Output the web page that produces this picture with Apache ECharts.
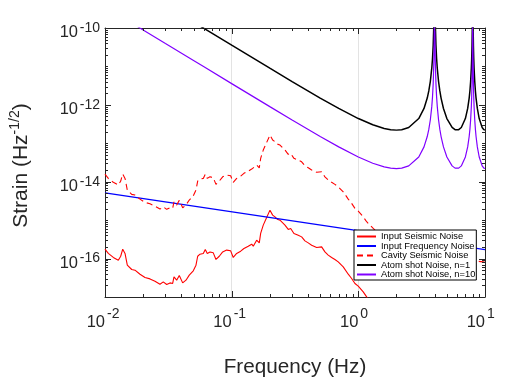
<!DOCTYPE html>
<html>
<head>
<meta charset="utf-8">
<script src="https://cdn.jsdelivr.net/npm/echarts@6/dist/echarts.min.js"></script>
<style>
  html, body { margin: 0; padding: 0; background: #fff; }
  #main { width: 509px; height: 378px; }
</style>
</head>
<body>
<div id="main"></div>
<script>
// atom shot noise (resonances at 4 Hz and 8 Hz)
const freqShot = [0.015, 0.02, 0.03, 0.05, 0.06, 0.1, 0.2, 0.3, 0.5, 0.7, 1, 1.3, 1.6, 1.8, 2, 2.2, 2.5, 3, 3.3, 3.5, 3.6, 3.7, 3.8, 3.85, 3.9, 3.95, 3.97, 3.98, 3.99, 4,
  4.01, 4.02, 4.03, 4.05, 4.1, 4.15, 4.2, 4.3, 4.4, 4.5, 4.7, 5, 5.5, 5.8, 6, 6.2, 6.5, 7, 7.3, 7.5, 7.6, 7.7, 7.8, 7.85, 7.9, 7.95, 7.97, 7.98, 7.99, 8,
  8.01, 8.02, 8.03, 8.05, 8.1, 8.15, 8.2, 8.3, 8.4, 8.5, 8.7, 9, 9.5, 9.8, 10];
const shotN1 = [1.58e-9, 8.92e-10, 3.96e-10, 1.43e-10, 9.91e-11, 3.57e-11, 8.99e-12, 4.04e-12, 1.5e-12, 8.06e-13, 4.4e-13, 3.03e-13, 2.43e-13, 2.26e-13, 2.2e-13, 2.26e-13, 2.58e-13, 4.4e-13, 8.06e-13, 1.5e-12, 2.3e-12, 4.04e-12, 8.99e-12, 1.59e-11, 3.57e-11, 1.43e-10, 3.96e-10, 8.92e-10, 3.57e-9, 1e-6,
  3.57e-9, 8.92e-10, 3.96e-10, 1.43e-10, 3.57e-11, 1.59e-11, 8.99e-12, 4.04e-12, 2.3e-12, 1.5e-12, 8.06e-13, 4.4e-13, 2.58e-13, 2.26e-13, 2.2e-13, 2.26e-13, 2.58e-13, 4.4e-13, 8.06e-13, 1.5e-12, 2.3e-12, 4.04e-12, 8.99e-12, 1.59e-11, 3.57e-11, 1.43e-10, 3.96e-10, 8.92e-10, 3.57e-9, 1e-6,
  3.57e-9, 8.92e-10, 3.96e-10, 1.43e-10, 3.57e-11, 1.59e-11, 8.99e-12, 4.04e-12, 2.3e-12, 1.5e-12, 8.06e-13, 4.4e-13, 2.58e-13, 2.26e-13, 2.2e-13];
const shotN10 = [1.58e-10, 8.92e-11, 3.96e-11, 1.43e-11, 9.91e-12, 3.57e-12, 8.99e-13, 4.04e-13, 1.5e-13, 8.06e-14, 4.4e-14, 3.03e-14, 2.43e-14, 2.26e-14, 2.2e-14, 2.26e-14, 2.58e-14, 4.4e-14, 8.06e-14, 1.5e-13, 2.3e-13, 4.04e-13, 8.99e-13, 1.59e-12, 3.57e-12, 1.43e-11, 3.96e-11, 8.92e-11, 3.57e-10, 1e-7,
  3.57e-10, 8.92e-11, 3.96e-11, 1.43e-11, 3.57e-12, 1.59e-12, 8.99e-13, 4.04e-13, 2.3e-13, 1.5e-13, 8.06e-14, 4.4e-14, 2.58e-14, 2.26e-14, 2.2e-14, 2.26e-14, 2.58e-14, 4.4e-14, 8.06e-14, 1.5e-13, 2.3e-13, 4.04e-13, 8.99e-13, 1.59e-12, 3.57e-12, 1.43e-11, 3.96e-11, 8.92e-11, 3.57e-10, 1e-7,
  3.57e-10, 8.92e-11, 3.96e-11, 1.43e-11, 3.57e-12, 1.59e-12, 8.99e-13, 4.04e-13, 2.3e-13, 1.5e-13, 8.06e-14, 4.4e-14, 2.58e-14, 2.26e-14, 2.2e-14];

// input frequency noise (straight line)
const freqLaser = [0.01, 10];
const inputFreqNoise = [5.1e-15, 1.7e-16];

// input seismic noise
const freqSeismic = [0.01, 0.01062, 0.01163, 0.01274, 0.0133, 0.0138, 0.01439, 0.015, 0.01625, 0.01725, 0.01889, 0.0207, 0.02266, 0.02481, 0.02717, 0.02885, 0.03069, 0.03258, 0.03422, 0.03504,
  0.0368, 0.03858, 0.04105, 0.04358, 0.04627, 0.04977, 0.05227, 0.05391, 0.05622, 0.05969, 0.06191, 0.06419, 0.06743, 0.07158, 0.07518, 0.07984, 0.0849, 0.09131, 0.09819, 0.1029,
  0.1095, 0.1178, 0.125, 0.1352, 0.1439, 0.1481, 0.1575, 0.1652, 0.1694, 0.1776, 0.1889, 0.2006, 0.2107, 0.2197, 0.2291, 0.2406, 0.2635, 0.2797, 0.2923, 0.3102,
  0.3355, 0.3568, 0.3789, 0.4023, 0.428, 0.4688, 0.5132, 0.5449, 0.5785, 0.6154, 0.6535, 0.6938, 0.76, 0.8325, 0.8853, 0.9402, 0.9982, 1.093, 1.163, 1.3];
const inputSeismic = [1.76e-16, 1.36e-16, 1.07e-16, 9.08e-17, 1.15e-16, 1.76e-16, 1.36e-16, 6.73e-17, 5.2e-17, 4.99e-17, 3.92e-17, 3.22e-17, 2.96e-17, 2.58e-17, 2.15e-17, 2.47e-17, 2.12e-17, 2.33e-17, 2.25e-17, 3.34e-17,
  2.74e-17, 3.63e-17, 2.33e-17, 2.74e-17, 3.7e-17, 4.79e-17, 6.73e-17, 1.15e-16, 1.3e-16, 1.36e-16, 1.73e-16, 1.36e-16, 1.49e-16, 1.41e-16, 9.48e-17, 1.15e-16, 1.49e-16, 1.66e-16, 1.59e-16, 1.07e-16,
  1.36e-16, 1.56e-16, 1.83e-16, 2.1e-16, 2.37e-16, 2.1e-16, 3.01e-16, 2.56e-16, 4.51e-16, 7.41e-16, 1.17e-15, 1.82e-15, 1.35e-15, 1.22e-15, 1.06e-15, 1.0e-15, 7.41e-16, 5.73e-16, 6.08e-16, 4.51e-16,
  4.07e-16, 3.67e-16, 2.89e-16, 2.56e-16, 2.23e-16, 1.95e-16, 2.02e-16, 1.49e-16, 1.23e-16, 1.07e-16, 9.48e-17, 8.2e-17, 6.08e-17, 3.92e-17, 3.03e-17, 2.25e-17, 1.91e-17, 1.36e-17, 1.01e-17, 5e-18];

// cavity seismic noise (dashed)
const freqCavity = [0.01, 0.01062, 0.01163, 0.01274, 0.0133, 0.0138, 0.01439, 0.015, 0.01625, 0.01725, 0.01889, 0.0207, 0.02266, 0.02481, 0.02717, 0.02885, 0.03069, 0.03258, 0.03422, 0.03504,
  0.0368, 0.03858, 0.04105, 0.04358, 0.04627, 0.04977, 0.05227, 0.05391, 0.05622, 0.05969, 0.06191, 0.06419, 0.06743, 0.07158, 0.07518, 0.07984, 0.0849, 0.09131, 0.09819, 0.1029,
  0.1095, 0.1178, 0.125, 0.1352, 0.1439, 0.1481, 0.1575, 0.1652, 0.1694, 0.1776, 0.1889, 0.2006, 0.2107, 0.2197, 0.2291, 0.2406, 0.2635, 0.2797, 0.2923, 0.3102,
  0.3355, 0.3568, 0.3789, 0.4023, 0.428, 0.4688, 0.5132, 0.5449, 0.5785, 0.6154, 0.6535, 0.6938, 0.76, 0.8325, 0.8853, 0.9402, 0.9982, 1.093, 1.163, 1.311,
  1.776, 2.553, 4.4, 7.6, 10];
const cavitySeismic = [1.58e-14, 1.22e-14, 9.63e-15, 8.17e-15, 1.04e-14, 1.58e-14, 1.22e-14, 6.06e-15, 4.68e-15, 4.49e-15, 3.53e-15, 2.9e-15, 2.66e-15, 2.32e-15, 1.94e-15, 2.22e-15, 1.91e-15, 2.1e-15, 2.03e-15, 3.01e-15,
  2.47e-15, 3.27e-15, 2.1e-15, 2.47e-15, 3.33e-15, 4.31e-15, 6.06e-15, 1.04e-14, 1.17e-14, 1.22e-14, 1.56e-14, 1.22e-14, 1.34e-14, 1.27e-14, 8.53e-15, 1.04e-14, 1.34e-14, 1.49e-14, 1.43e-14, 9.63e-15,
  1.22e-14, 1.4e-14, 1.65e-14, 1.89e-14, 2.13e-14, 1.89e-14, 2.71e-14, 2.3e-14, 4.06e-14, 6.67e-14, 1.05e-13, 1.64e-13, 1.22e-13, 1.1e-13, 9.54e-14, 9.0e-14, 6.67e-14, 5.16e-14, 5.47e-14, 4.06e-14,
  3.66e-14, 3.3e-14, 2.6e-14, 2.3e-14, 2.01e-14, 1.76e-14, 1.82e-14, 1.34e-14, 1.11e-14, 9.63e-15, 8.53e-15, 7.38e-15, 5.47e-15, 3.53e-15, 2.73e-15, 2.03e-15, 1.72e-15, 1.22e-15, 9.1e-16, 6.08e-16,
  2.23e-16, 1.02e-16, 8.05e-17, 9.08e-17, 8.05e-17];

// tick labels
const xTicks = [0.01, 0.1, 1, 10];
const yTicks = [1e-16, 1e-14, 1e-12, 1e-10];

const X_MIN = 0.01, X_MAX = 10, Y_MIN = 1e-17, Y_MAX = 1e-10;

function pairs(xs, ys) {
  return xs.map((x, i) => [x, ys[i]]);
}

// tick marks: [value, length]; major at labelled decades, minor at 2..9 (and the odd decades on y)
function tickMarks(lo, hi, majors, extraMinor) {
  const out = [];
  for (let e = lo; e < hi; e++) {
    for (let k = 2; k <= 9; k++) out.push([Number((k * Math.pow(10, e)).toPrecision(3)), 3]);
  }
  majors.forEach(v => out.push([v, 6]));
  extraMinor.forEach(v => out.push([v, 3]));
  return out;
}
const xTickMarks = tickMarks(-2, 1, [0.1, 1], []);
const yTickMarks = tickMarks(-17, -10, [1e-16, 1e-14, 1e-12], [1e-11, 1e-13, 1e-15]);

const axisColor = '#262626';
const font = 'Liberation Sans, Arial, Helvetica, sans-serif';

function expo(v) {
  return String(Math.round(Math.log10(v)));
}

function logAxis(extra) {
  return Object.assign({
    type: 'log',
    logBase: 10,
    axisLine: { show: true, lineStyle: { color: axisColor, width: 1 } },
    axisTick: { show: false },
    splitLine: { show: false },
    axisLabel: { show: false }
  }, extra);
}

var myChart = echarts.init(document.getElementById('main'), null, { renderer: 'canvas' });

let option = {
  animation: false,
  backgroundColor: '#fff',
  grid: { left: 105, right: 24, top: 28, bottom: 81, outerBoundsMode: 'none', containLabel: false },
  legend: {
    orient: 'vertical',
    left: 354,
    top: 230,
    itemWidth: 19,
    itemHeight: 11,
    itemGap: 0.5,
    padding: [2, 1, 1, 2],
    backgroundColor: '#fff',
    borderColor: '#000',
    borderWidth: 1,
    borderRadius: 0,
    itemStyle: { opacity: 0 },
    textStyle: { fontSize: 9.3, fontFamily: font, color: '#000' },
    data: ['Input Seismic Noise', 'Input Frequency Noise', 'Cavity Seismic Noise', 'Atom shot Noise, n=1', 'Atom shot Noise, n=10']
  },
  xAxis: [
    logAxis({
      min: X_MIN, max: X_MAX, position: 'bottom',
      name: 'Frequency (Hz)',
      nameLocation: 'middle',
      nameGap: 60,
      nameTextStyle: { fontSize: 20.7, fontFamily: font, color: axisColor },
      splitLine: { show: true, lineStyle: { color: '#e3e3e3', width: 1 } },
      axisLabel: {
        show: true, customValues: xTicks, formatter: '10', margin: 16.5, align: 'right',
        fontSize: 16.5, lineHeight: 17, fontFamily: font, color: axisColor
      }
    }),
    logAxis({ min: X_MIN, max: X_MAX, position: 'top' }),
    logAxis({
      min: X_MIN, max: X_MAX, position: 'bottom',
      axisLine: { show: false },
      axisLabel: {
        show: true, customValues: xTicks, formatter: expo, margin: 10.5, align: 'left', padding: [0, 0, 0, 2],
        fontSize: 14, lineHeight: 14, fontFamily: font, color: axisColor
      }
    })
  ],
  yAxis: [
    logAxis({
      min: Y_MIN, max: Y_MAX, position: 'left',
      name: '{n|Strain (Hz}{s|-1/2}{n|)}{g|}',
      nameLocation: 'middle',
      nameGap: 73,
      nameTextStyle: {
        rich: {
          n: { fontSize: 21, fontFamily: font, color: axisColor, verticalAlign: 'bottom' },
          s: { fontSize: 14, fontFamily: font, color: axisColor, verticalAlign: 'bottom', padding: [0, 0, 10, 0] },
          g: { width: 6 }
        }
      },
      axisLabel: {
        show: true, customValues: yTicks, formatter: '10', margin: 27, verticalAlign: 'top',
        fontSize: 16.5, lineHeight: 9, fontFamily: font, color: axisColor
      }
    }),
    logAxis({ min: Y_MIN, max: Y_MAX, position: 'right' }),
    logAxis({
      min: Y_MIN, max: Y_MAX, position: 'left',
      axisLine: { show: false },
      axisLabel: {
        show: true, customValues: yTicks, formatter: expo, margin: 5,
        fontSize: 14, lineHeight: 14, fontFamily: font, color: axisColor
      }
    })
  ],
  series: [
    {
      // horizontal grid lines at the labelled decades
      type: 'line',
      data: [],
      silent: true,
      z: 1,
      markLine: {
        silent: true,
        symbol: 'none',
        label: { show: false },
        lineStyle: { color: '#e3e3e3', width: 1, type: 'solid' },
        data: yTicks.slice(0, 3).map(v => ({ yAxis: v }))
      }
    },
    {
      name: 'Input Seismic Noise',
      type: 'line',
      showSymbol: false,
      symbol: 'none',
      lineStyle: { color: '#ff0000', width: 1.1 },
      itemStyle: { color: '#ff0000' },
      data: pairs(freqSeismic, inputSeismic)
    },
    {
      name: 'Input Frequency Noise',
      type: 'line',
      showSymbol: false,
      symbol: 'none',
      lineStyle: { color: '#0000ff', width: 1.2 },
      itemStyle: { color: '#0000ff' },
      data: pairs(freqLaser, inputFreqNoise)
    },
    {
      name: 'Cavity Seismic Noise',
      type: 'line',
      showSymbol: false,
      symbol: 'none',
      lineStyle: { color: '#ff0000', width: 1.1, type: [6, 4] },
      itemStyle: { color: '#ff0000' },
      data: pairs(freqCavity, cavitySeismic)
    },
    {
      name: 'Atom shot Noise, n=1',
      type: 'line',
      showSymbol: false,
      symbol: 'none',
      lineStyle: { color: '#000000', width: 1.5 },
      itemStyle: { color: '#000000' },
      data: pairs(freqShot, shotN1)
    },
    {
      name: 'Atom shot Noise, n=10',
      type: 'line',
      showSymbol: false,
      symbol: 'none',
      lineStyle: { color: '#8000ff', width: 1.2 },
      itemStyle: { color: '#8000ff' },
      data: pairs(freqShot, shotN10)
    },
    {
      // inward ticks on bottom and top edges
      type: 'custom',
      silent: true,
      clip: false,
      z: 5,
      encode: { x: 0 },
      data: xTickMarks,
      renderItem: function (params, api) {
        const v = api.value(0), len = api.value(1);
        const b = api.coord([v, Y_MIN]);
        const t = api.coord([v, Y_MAX]);
        const x = Math.round(b[0]) + 0.5;
        const st = { stroke: axisColor, lineWidth: 1 };
        return {
          type: 'group',
          children: [
            { type: 'line', shape: { x1: x, y1: b[1], x2: x, y2: b[1] - len }, style: st },
            { type: 'line', shape: { x1: x, y1: t[1], x2: x, y2: t[1] + len }, style: st }
          ]
        };
      }
    },
    {
      // inward ticks on left and right edges
      type: 'custom',
      silent: true,
      clip: false,
      z: 5,
      encode: { y: 0 },
      data: yTickMarks,
      renderItem: function (params, api) {
        const v = api.value(0), len = api.value(1);
        const l = api.coord([X_MIN, v]);
        const r = api.coord([X_MAX, v]);
        const y = Math.round(l[1]) + 0.5;
        const st = { stroke: axisColor, lineWidth: 1 };
        return {
          type: 'group',
          children: [
            { type: 'line', shape: { x1: l[0], y1: y, x2: l[0] + len, y2: y }, style: st },
            { type: 'line', shape: { x1: r[0], y1: y, x2: r[0] - len, y2: y }, style: st }
          ]
        };
      }
    }
  ]
};
myChart.setOption(option);
</script>
</body>
</html>
